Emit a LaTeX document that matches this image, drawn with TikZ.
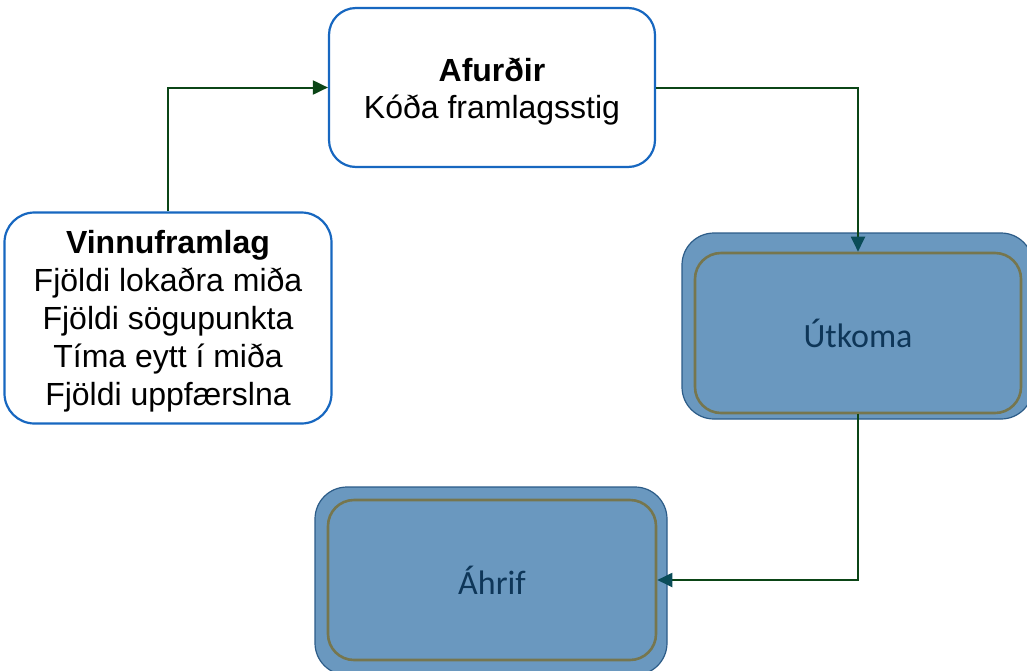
\documentclass[tikz,border=0pt]{standalone}
\usepackage{fontspec}
\setmainfont{Liberation Sans}
\newfontfamily\carlitofont{Carlito}
\usetikzlibrary{arrows.meta}
\definecolor{boxblue}{HTML}{1767C0}
\definecolor{fillblue}{HTML}{6A98BF}
\definecolor{outerline}{HTML}{2C5C88}
\definecolor{innerline}{HTML}{76764E}
\definecolor{textnavy}{HTML}{0E3658}
\definecolor{linkgreen}{HTML}{0B4516}
\definecolor{tipteal}{HTML}{0A4C58}
\tikzset{
  whitebox/.style={draw=boxblue, line width=2.2pt, fill=white, rounded corners=27pt, inner sep=0pt},
  boxtext/.style={align=center, inner sep=0pt, font=\fontsize{32}{38}\selectfont},
  outerbox/.style={draw=outerline, line width=1.2pt, fill=fillblue, rounded corners=32pt, inner sep=0pt},
  innerbox/.style={draw=innerline, line width=2.6pt, fill=fillblue, rounded corners=26pt, inner sep=0pt,
    text=textnavy, font=\carlitofont\fontsize{34}{40}\selectfont},
  link/.style={draw=linkgreen, line width=2pt, -{Triangle[length=15pt,width=14pt]}},
  tealtip/.style={-{Triangle[length=15pt,width=14pt,color=tipteal]}},
}
\begin{document}
\begin{tikzpicture}[x=1pt,y=-1pt]
\useasboundingbox (0,0) rectangle (1027,670);
\node[whitebox, minimum width=326pt, minimum height=159pt] (afur) at (492,87.5) {};
\node[boxtext, font=\fontsize{32}{37}\selectfont] (afurtext) at (492,91.5) {\textbf{Afurðir}\\Kóða framlagsstig};
\node[whitebox, minimum width=327pt, minimum height=211pt, rounded corners=30pt] (vinnu) at (168,318) {};
\node[boxtext] (vinnutext) at (168,321.5)
  {\textbf{Vinnuframlag}\\Fjöldi lokaðra miða\\Fjöldi sögupunkta\\Tíma eytt í miða\\Fjöldi uppfærslna};
\node[outerbox, minimum width=351pt, minimum height=186pt] (utout) at (857.5,326) {};
\node[innerbox, minimum width=326pt, minimum height=160pt] (utin) at (858,333) {Útkoma};
\node[outerbox, minimum width=352pt, minimum height=188pt] (ahout) at (491,581) {};
\node[innerbox, minimum width=328pt, minimum height=160pt] (ahin) at (492,580) {Áhrif};
\draw[link] (vinnu.north) |- (afur.west);
\draw[link, tealtip] (afur.east) -| (utin.north);
\draw[link, tealtip] (utin.south) |- (ahin.east);
\end{tikzpicture}
\end{document}
